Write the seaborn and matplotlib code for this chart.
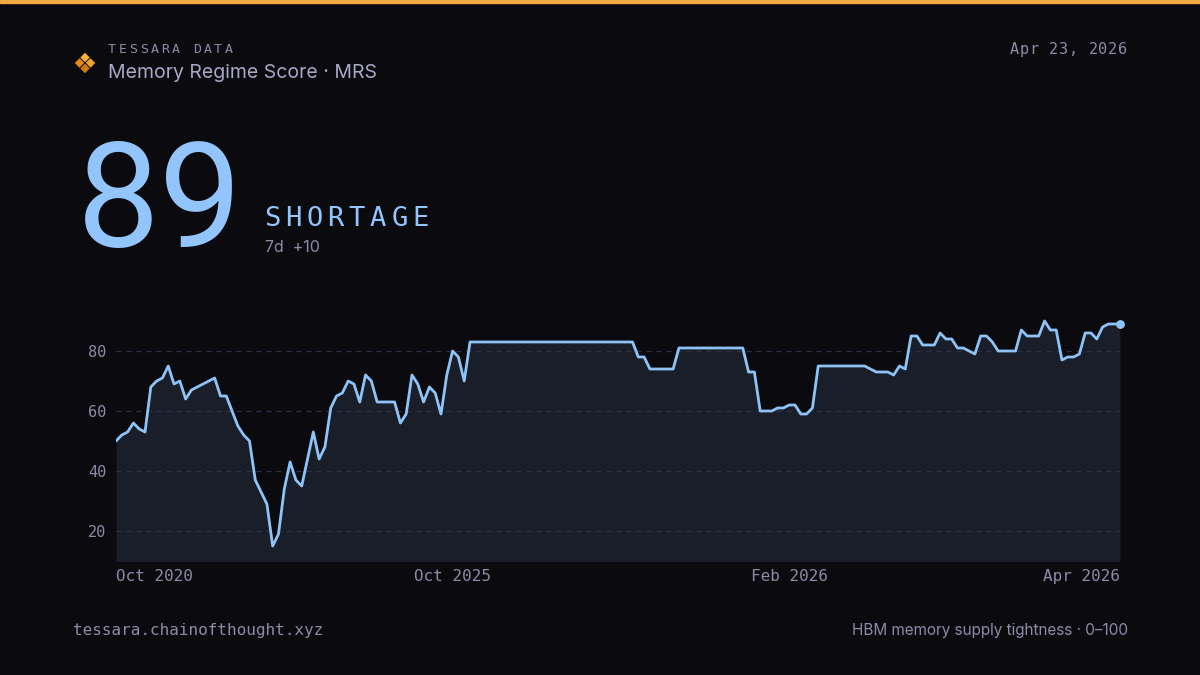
import numpy as np
import pandas as pd
import matplotlib
matplotlib.use("Agg")
import matplotlib.pyplot as plt
import seaborn as sns
from matplotlib.patches import Polygon, Rectangle

# -------------------------------
# data
# -------------------------------
scores = [
    50, 52, 53, 56, 54, 53, 68, 70, 71, 75, 69, 70, 64, 67, 68, 69, 70, 71, 65, 65,
    60, 55, 52, 50, 37, 33, 29, 15, 19, 34, 43, 37, 35, 44, 53, 44, 48, 61, 65, 66,
    70, 69, 63, 72, 70, 63, 63, 63, 63, 56, 59, 72, 69, 63, 68, 66, 59, 72, 80, 78,
    70, 83, 83, 83, 83, 83, 83, 83, 83, 83, 83, 83, 83, 83, 83, 83, 83, 83, 83, 83,
    83, 83, 83, 83, 83, 83, 83, 83, 83, 83, 78, 78, 74, 74, 74, 74, 74, 81, 81, 81,
    81, 81, 81, 81, 81, 81, 81, 81, 81, 73, 73, 60, 60, 60, 61, 61, 62, 62, 59, 59,
    61, 75, 75, 75, 75, 75, 75, 75, 75, 75, 74, 73, 73, 73, 72, 75, 74, 85, 85, 82,
    82, 82, 86, 84, 84, 81, 81, 80, 79, 85, 85, 83, 80, 80, 80, 80, 87, 85, 85, 85,
    90, 87, 87, 77, 78, 78, 79, 86, 86, 84, 88, 89, 89, 89,
]
tick_labels = ["Oct 2020", "Oct 2025", "Feb 2026", "Apr 2026"]
y_ticks = [20, 40, 60, 80]

current_score = 89
regime = "SHORTAGE"
change_7d = "7d  +10"
brand = "TESSARA DATA"
title = "Memory Regime Score \u00b7 MRS"
date_str = "Apr 23, 2026"
footer_left = "tessara.chainofthought.xyz"
footer_right = "HBM memory supply tightness \u00b7 0\u2013100"

df = pd.DataFrame({"idx": np.arange(len(scores)), "score": scores})

# -------------------------------
# style
# -------------------------------
BG = "#0b0b0f"
LINE = "#8ec3f7"
FILL = "#191e28"
GRID = "#2e2e48"
MUTED = "#8b8ba7"
TITLE = "#a9a9c9"
BIG = "#93c5fd"
MONO = "DejaVu Sans Mono"
SANS = "Inter"

sns.set_theme(style="dark")
plt.rcParams["font.family"] = [SANS, "DejaVu Sans"]

W, H = 1200, 675
fig = plt.figure(figsize=(12, 6.75), dpi=100, facecolor=BG)

def fx(px):
    return px / W

def fy(py):
    return 1 - py / H

def spaced(x0, y0, text, step, **kw):
    # letter-spaced text, one glyph per slot (px coords)
    for i, ch in enumerate(text):
        if ch != " ":
            fig.text(fx(x0 + i * step), fy(y0), ch, ha="left", **kw)

# top accent bar
fig.patches.append(Rectangle((0, fy(3)), 1, 3 / H, transform=fig.transFigure,
                             color="#f2a944", zorder=5))

# logo: four small diamonds
cx, cy, r = 85, 63, 5.4
logo_cols = {(0, -1): "#f7b232", (-1, 0): "#e48a12", (1, 0): "#f2a22a", (0, 1): "#d07c0c"}
for (dx, dy), c in logo_cols.items():
    ox, oy = cx + dx * r, cy + dy * r
    pts = [(fx(ox), fy(oy - r)), (fx(ox + r), fy(oy)), (fx(ox), fy(oy + r)), (fx(ox - r), fy(oy))]
    fig.patches.append(Polygon(pts, closed=True, transform=fig.transFigure,
                               facecolor=c, edgecolor=BG, linewidth=0.6))

# header text
spaced(108, 53, brand, 10.6, family=MONO, fontsize=9.5, color=MUTED, va="baseline")
fig.text(fx(108), fy(73), title, fontsize=14, color=TITLE, va="center", ha="left")
spaced(1010, 54, date_str, 9.8, family=MONO, fontsize=11, color=MUTED, va="baseline")

# hero number
fig.text(fx(77), fy(247), str(current_score), family=["Roboto", "DejaVu Sans"],
         fontsize=106, color=BIG, va="baseline", ha="left")
spaced(264, 226, regime, 21.2, family=MONO, fontsize=19.5, color=BIG, va="baseline")
fig.text(fx(265), fy(252), change_7d, fontsize=11.5, color=MUTED, va="baseline", ha="left")

# footer
fig.text(fx(73), fy(630), footer_left, family=MONO, fontsize=11.5, color=MUTED, va="center", ha="left")
fig.text(fx(1128), fy(630), footer_right, fontsize=11, color=MUTED, va="center", ha="right")

# -------------------------------
# chart
# -------------------------------
ax = fig.add_axes([fx(116), fy(561), fx(1120) - fx(116), (561 - 315) / H])
ax.set_facecolor(BG)

ax.fill_between(df["idx"], df["score"], 0, color=FILL, linewidth=0, zorder=1)
sns.lineplot(data=df, x="idx", y="score", ax=ax, color=LINE, linewidth=2, zorder=3)
ax.scatter([df["idx"].iloc[-1]], [df["score"].iloc[-1]], s=40, color=LINE, zorder=4,
           linewidths=0, clip_on=False)

ax.set_xlim(0, len(scores) - 1)
ax.set_ylim(10, 92)

for yv in y_ticks:
    ax.axhline(yv, color=GRID, linewidth=0.9, linestyle=(0, (4, 4)), zorder=2)
ax.grid(False)

ax.set_yticks(y_ticks)
ax.set_yticklabels([str(v) for v in y_ticks], family=MONO, fontsize=11, color=MUTED)
ax.tick_params(axis="y", length=0, pad=7)

n = len(scores) - 1
tick_pos = [0, round(n / 3), round(2 * n / 3) + 1, n]
ax.set_xticks(tick_pos)
ax.set_xticklabels(tick_labels, family=MONO, fontsize=11.5, color=MUTED)
ax.tick_params(axis="x", length=0, pad=6)
aligns = ["left", "center", "center", "right"]
for lab, ha in zip(ax.get_xticklabels(), aligns):
    lab.set_ha(ha)

ax.set_xlabel("")
ax.set_ylabel("")
for s in ax.spines.values():
    s.set_visible(False)

fig.savefig("out.png", dpi=100, facecolor=BG)
